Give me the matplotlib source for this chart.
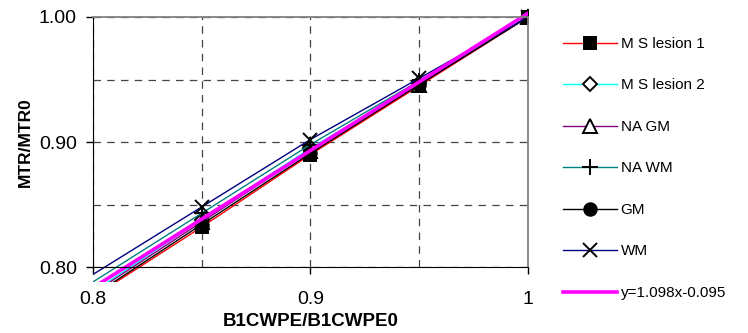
import matplotlib
matplotlib.use("Agg")
import matplotlib.pyplot as plt
from matplotlib.patches import Rectangle
import numpy as np

plt.rcParams['font.family'] = ['Liberation Sans', 'DejaVu Sans']

# --- data ---
x = [0.80, 0.85, 0.90, 0.95, 1.00]
ms_lesion1 = [0.776, 0.832, 0.890, 0.945, 1.000]
ms_lesion2 = [0.780, 0.838, 0.895, 0.947, 1.000]
na_gm = [0.779, 0.836, 0.893, 0.946, 1.000]
na_wm = [0.788, 0.843, 0.898, 0.949, 1.000]
gm = [0.777, 0.834, 0.891, 0.946, 1.000]
wm = [0.794, 0.848, 0.902, 0.951, 1.000]
fit_slope, fit_icpt = 1.098, -0.095

major_ticks = [0.80, 0.90, 1.00]
minor_ticks = [0.85, 0.95]
xtick_labels = ["0.8", "0.9", "1"]
ytick_labels = ["0.80", "0.90", "1.00"]

series = [
    ("M S lesion 1", ms_lesion1, "red", "s", "black"),
    ("M S lesion 2", ms_lesion2, "cyan", "D", "white"),
    ("NA GM", na_gm, "purple", "^", "white"),
    ("NA WM", na_wm, "teal", "+", "black"),
    ("GM", gm, "black", "o", "black"),
    ("WM", wm, "navy", "x", "black"),
]

fig = plt.figure(figsize=(7.48, 3.33), dpi=100)
ax = fig.add_axes([0.124, 0.198, 0.582, 0.751])

# Excel lets the lines run a little past the bottom of the plot area
clip = Rectangle((0, -0.06), 1, 1.12, transform=ax.transAxes, fill=False, visible=False)
ax.add_patch(clip)

sizes = {"s": 8.5, "o": 9, "D": 7, "^": 9.5, "+": 11, "x": 9.5}
for label, vals, col, mk, fc in series:
    line, = ax.plot(x, vals, color=col, lw=1.0, marker=mk, markersize=sizes[mk],
                    markerfacecolor=fc, markeredgecolor="black", markeredgewidth=1.4,
                    markevery=[1, 2, 3, 4], label=label)
    line.set_clip_path(clip)

xf = np.array(x)
fl, = ax.plot(xf, fit_slope * xf + fit_icpt, color="magenta", lw=2.6,
              label="y=1.098x-0.095", zorder=2.5)
fl.set_clip_path(clip)

ax.set_xlim(0.8, 1.0)
ax.set_ylim(0.8, 1.0)
ax.set_xticks(major_ticks)
ax.set_xticklabels(xtick_labels)
ax.set_xticks(minor_ticks, minor=True)
ax.set_yticks(major_ticks)
ax.set_yticklabels(ytick_labels)
ax.set_yticks(minor_ticks, minor=True)
ax.tick_params(which="major", direction="out", length=5, labelsize=14, width=1)
ax.tick_params(which="minor", length=0)
ax.tick_params(axis="x", pad=12)
ax.tick_params(axis="y", pad=6.5)
ax.grid(True, which="both", color="#444444", linestyle=(0, (6, 5)), lw=0.9)

for s in ("top", "right"):
    ax.spines[s].set_color("#808080")
    ax.spines[s].set_linewidth(1.3)
for s in ("left", "bottom"):
    ax.spines[s].set_color("black")

ax.set_xlabel("B1CWPE/B1CWPE0", fontsize=13.5, fontweight="bold", labelpad=4)
ax.set_ylabel("MTR/MTR0", fontsize=12.5, fontweight="bold", labelpad=4)

ax.legend(loc="upper left", bbox_to_anchor=(1.067, 0.945), frameon=False,
          fontsize=11, handlelength=3.5, handletextpad=0.25, labelspacing=1.8,
          borderaxespad=0)

fig.savefig("out.png", dpi=100)
